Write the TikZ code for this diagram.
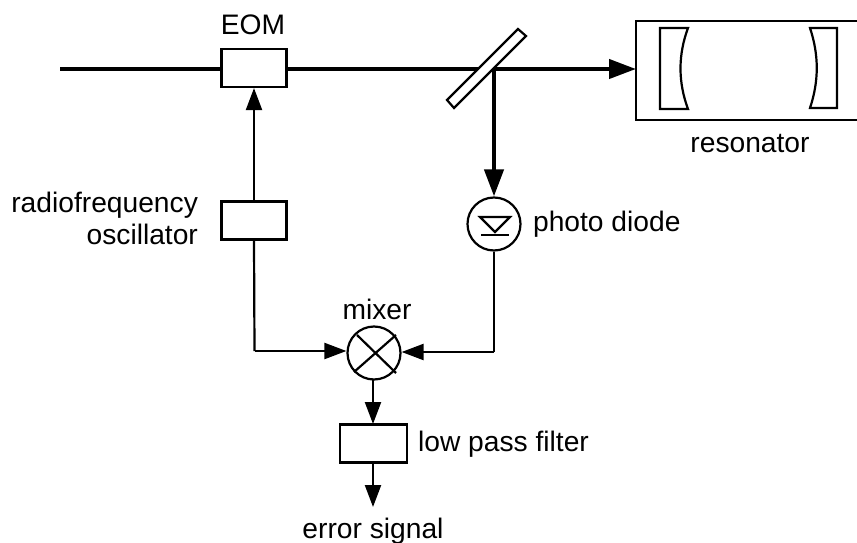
\documentclass[tikz,border=0pt]{standalone}
\usepackage{fontspec}
\setmainfont{Liberation Sans}
\usetikzlibrary{arrows.meta,calc}
\tikzset{
  boxn/.style={draw,line width=2.2pt,minimum width=65pt,minimum height=38pt,inner sep=0pt,fill=white},
  circn/.style={draw,circle,line width=2.2pt,minimum size=53pt,inner sep=0pt,fill=white},
  lab/.style={font=\fontsize{28.2}{31.5}\selectfont,inner sep=0pt},
  thin conn/.style={line width=2.2pt,-{Triangle[length=22pt,width=16pt]}},
  thick conn/.style={line width=4.2pt,-{Triangle[length=27pt,width=19pt]}},
}
\begin{document}
\begin{tikzpicture}[x=1pt,y=-1pt,line width=2.2pt]
\useasboundingbox (0,0) rectangle (857,543);
% beams
\coordinate (start) at (60,69);
\coordinate (tap) at (494,69);
\coordinate (rfcorner) at (254.5,351);
\coordinate (pdcorner) at (494,352);
\node[boxn] (eom) at (254,68) {};
\node[boxn] (rf) at (254,220.5) {};
\node[minimum width=221pt,minimum height=99pt,inner sep=0pt,outer sep=0pt,anchor=north west] (res) at (636,21) {};
\draw (res.north east) -- (res.north west) -- (res.south west) -- (res.south east);
\node[circn] (pd) at (494,224) {};
\node[circn] (mix) at (374,353) {};
\node[boxn,minimum width=67pt] (lpf) at (373.5,443.5) {};
\coordinate (errend) at (373,507);
\coordinate (mixout) at (373,379);
\coordinate (lpfin) at (373,424);
\draw[line width=4.2pt] (start) -- (eom.west |- start);
\draw[thick conn] (eom.east |- start) -- (res.west |- start);
\draw[thick conn] (tap) -- (pd.north);
% splitter
\draw[fill=white,line join=miter] (518,29) -- (526,36) -- (454,108) -- (447,100) -- cycle;
\draw[thin conn] (rf.north) -- (eom.south);
\draw (rf.south) -- (rfcorner);
\draw[thin conn] (rfcorner) -- (mix.west |- rfcorner);
\draw (pd.south) -- (pdcorner);
\draw[thin conn] (pdcorner) -- (mix.east |- pdcorner);
\draw[thin conn] (mixout) -- (lpfin);
\draw[thin conn] (lpf.south -| errend) -- (errend);
% mixer cross
\draw (357,335) -- (396,373);
\draw (354,372) -- (396,335);
% diode
\draw[line join=miter] (480,217) -- (510,217) -- (495,232) -- cycle;
\draw (481,235) -- (509,235);
% mirrors
\draw[line join=miter] (660,28) -- (688,28) .. controls (678,55) and (678,82) .. (688,109) -- (660,109) -- cycle;
\draw[line join=miter] (837,28) -- (810,28) .. controls (819,55) and (819,81) .. (810,108) -- (837,108) -- cycle;
% labels
\node[lab] (leom) at (253,25) {EOM};
\node[lab] (lres) at (750,144) {resonator};
\node[lab,anchor=east,align=right] (lrf) at (199,218.5) {radiofrequency\\oscillator};
\node[lab,anchor=west] (lpd) at (532,224) {photo diode};
\node[lab] (lmix) at (377,309) {mixer};
\node[lab,anchor=west] (llpf) at (417,444) {low pass filter};
\node[lab] (lerr) at (373,531) {error signal};
\end{tikzpicture}
\end{document}
